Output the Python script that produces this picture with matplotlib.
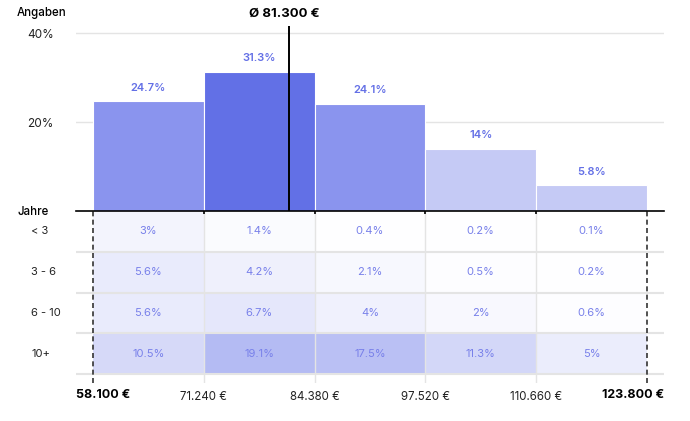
import numpy as np
import matplotlib
matplotlib.use("Agg")
import matplotlib.pyplot as plt
from matplotlib.colors import LinearSegmentedColormap

plt.rcParams['font.family'] = ['Inter', 'DejaVu Sans']

# --------------------------------------------------
# Daten
# --------------------------------------------------
edges = [58100, 71240, 84380, 97520, 110660, 123800]
edge_labels = ["58.100 €", "71.240 €", "84.380 €", "97.520 €", "110.660 €", "123.800 €"]
share = [24.7, 31.3, 24.1, 14.0, 5.8]
bar_colors = ["#8a94ee", "#6270e6", "#8a94ee", "#c5caf5", "#c5caf5"]
mean_value = 81300
mean_label = "Ø 81.300 €"

years = ["< 3", "3 - 6", "6 - 10", "10+"]
heat = np.array([
    [3.0, 1.4, 0.4, 0.2, 0.1],
    [5.6, 4.2, 2.1, 0.5, 0.2],
    [5.6, 6.7, 4.0, 2.0, 0.6],
    [10.5, 19.1, 17.5, 11.3, 5.0],
])

W, H = 690, 421
fig = plt.figure(figsize=(W / 100, H / 100), dpi=100)

x0, x1 = 76, 664
ax1 = fig.add_axes([x0 / W, (H - 211) / H, (x1 - x0) / W, (211 - 26) / H])
ax2 = fig.add_axes([x0 / W, (H - 383) / H, (x1 - x0) / W, (383 - 211) / H], sharex=ax1)
ax1.set_zorder(3)
ax1.patch.set_visible(False)

pad = 2016
ax1.set_xlim(edges[0] - pad, edges[-1] + pad)
ax1.set_ylim(0, 41.6)

# Balken
bw = edges[1] - edges[0]
ax1.bar(edges[:-1], share, width=bw, align='edge', color=bar_colors,
        edgecolor='white', linewidth=0.8, zorder=2)
for xl, v in zip(edges[:-1], share):
    ax1.annotate(f"{v:g}%", (xl + bw / 2, v), xytext=(0, 6), textcoords='offset points',
                 ha='center', va='bottom', fontsize=8, fontweight='semibold', color="#6470e6")

# Mittelwert
ax1.axvline(mean_value, color='black', lw=1.4, zorder=3)
fig.text(284 / W, 1 - 14 / H, mean_label, ha='center', va='center',
         fontsize=9.5, fontweight='bold')

ax1.set_yticks([20, 40])
ax1.set_yticklabels(["20%", "40%"], fontsize=8.5, color="#222222")
ax1.tick_params(axis='y', length=0, pad=16)
ax1.grid(axis='y', color="#e4e4e4", lw=1, zorder=0)
for s in ['top', 'right', 'left']:
    ax1.spines[s].set_visible(False)
ax1.spines['bottom'].set_color('black')
ax1.spines['bottom'].set_linewidth(1.2)
ax1.set_xticks(edges)
ax1.tick_params(axis='x', direction='inout', length=4, width=1.2, labelbottom=False, color='black')

fig.text(17 / W, 1 - 13 / H, "Angaben", ha='left', va='center', fontsize=8.3, fontweight='medium')
fig.text(17 / W, 1 - 212 / H, "Jahre", ha='left', va='center', fontsize=8.3, fontweight='medium')

# Heatmap
cmap = LinearSegmentedColormap.from_list("wb", ["#ffffff", "#6270e6"])
ax2.pcolormesh(edges, np.arange(len(years) + 1), heat, cmap=cmap, vmin=0, vmax=40, zorder=1)
ax2.set_ylim(4 + 9 / 40.75, 0)
for i, row in enumerate(heat):
    for j, v in enumerate(row):
        ax2.text(edges[j] + bw / 2, i + 0.5, f"{v:g}%", ha='center', va='center',
                 fontsize=8, color="#7880ea")
    ax2.text(-45 / (x1 - x0), i + 0.5, years[i], transform=ax2.get_yaxis_transform(),
             ha='left', va='center', fontsize=8, color="#222222")

for k in range(1, len(years) + 1):
    ax2.axhline(k, color="#e4e4e4", lw=1.5, zorder=2)
for e in edges[1:-1]:
    ax2.axvline(e, color="#e4e4e4", lw=1, zorder=2)
for e in (edges[0], edges[-1]):
    ax2.axvline(e, color="#333333", lw=1.2, ls=(0, (3, 2)), zorder=3)

for s in ax2.spines.values():
    s.set_visible(False)
ax2.set_yticks([])
ax2.set_xticks(edges[1:-1])
ax2.set_xticklabels(edge_labels[1:-1], fontsize=8.3, color="#222222")
ax2.tick_params(axis='x', length=0, pad=6)
ax2.text(0, -0.07, edge_labels[0], transform=ax2.transAxes, ha='left', va='center',
         fontsize=9, fontweight='bold')
ax2.text(1, -0.07, edge_labels[-1], transform=ax2.transAxes, ha='right', va='center',
         fontsize=9, fontweight='bold')

fig.savefig("out.png", dpi=100)
